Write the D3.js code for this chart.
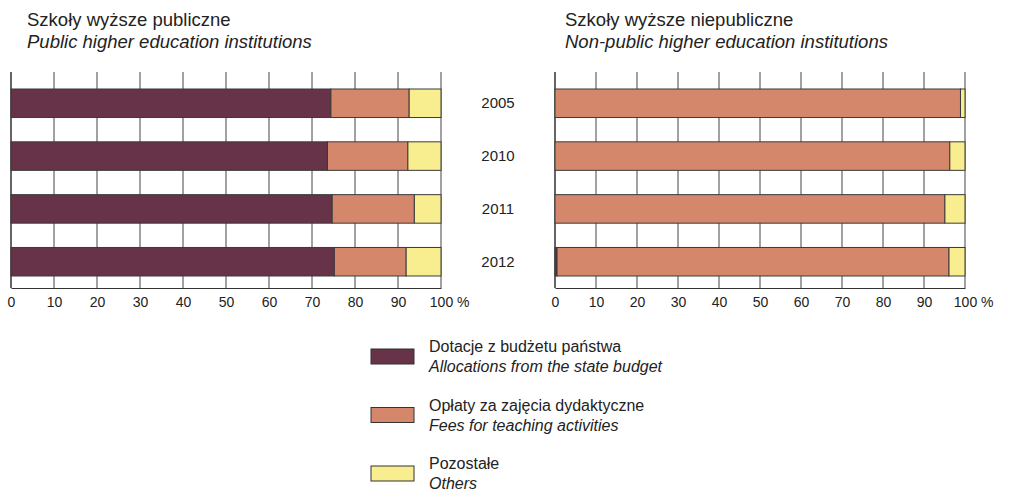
<!DOCTYPE html>
<html>
<head>
<meta charset="utf-8">
<script src="https://cdn.jsdelivr.net/npm/d3@7"></script>
<style>
  body { margin: 0; background: #fff; }
  svg { font-family: "Liberation Sans", Arial, sans-serif; }
</style>
</head>
<body>
<div class="container"></div>
<script>
// data (shares in %)
const years = ['2005', '2010', '2011', '2012'];
const publicState = [74.4, 73.6, 74.7, 75.2];
const publicFees = [18.2, 18.7, 19.1, 16.7];
const publicOther = [7.4, 7.7, 6.2, 8.1];
const nonpublicState = [0, 0, 0, 0.5];
const nonpublicFees = [98.9, 96.3, 95.1, 95.6];
const nonpublicOther = [1.1, 3.7, 4.9, 3.9];
const xTicks = [0, 10, 20, 30, 40, 50, 60, 70, 80, 90, 100];
const seriesKeys = ['state', 'fees', 'other'];
const seriesPl = ['Dotacje z budżetu państwa', 'Opłaty za zajęcia dydaktyczne', 'Pozostałe'];
const seriesEn = ['Allocations from the state budget', 'Fees for teaching activities', 'Others'];

const WIDTH = 1016, HEIGHT = 504;
const colors = { state: '#663349', fees: '#d4876b', other: '#f8ee8f' };

const svg = d3.select('.container').append('svg')
  .attr('width', WIDTH).attr('height', HEIGHT);

const y = d3.scaleBand().domain(years).range([89, 276])
  .paddingInner(0.46).paddingOuter(0);

const gridTop = 72, axisY = 288;

function panel(range, title, subtitle, titleX, st, fe, ot) {
  const x = d3.scaleLinear().domain([0, 100]).range(range);
  const g = svg.append('g');

  // titles
  g.append('text').attr('x', titleX).attr('y', 26)
    .attr('font-size', 18.5).attr('fill', '#222').text(title);
  g.append('text').attr('x', titleX).attr('y', 48)
    .attr('font-size', 18.5).attr('font-style', 'italic').attr('fill', '#222').text(subtitle);

  // vertical grid
  g.selectAll('.grid').data(xTicks).enter().append('line')
    .attr('x1', d => x(d)).attr('x2', d => x(d))
    .attr('y1', gridTop).attr('y2', axisY)
    .attr('stroke', d => d == 0 ? '#333' : '#444').attr('stroke-width', d => d == 0 ? 1.5 : 1);

  // axis
  const ax = g.append('g').attr('transform', `translate(0,${axisY})`)
    .call(d3.axisBottom(x).tickValues(xTicks).tickSize(0).tickPadding(9).tickFormat(d => d));
  ax.select('.domain').attr('stroke', '#333').attr('stroke-width', 1.2);
  ax.selectAll('text').attr('font-size', 14).attr('fill', '#222')
    .attr('font-family', '"Liberation Sans Narrow", "Liberation Sans", Arial, sans-serif');
  const last = ax.selectAll('.tick text').filter(d => d == 100);
  const w = last.node().getComputedTextLength();
  last.attr('text-anchor', 'start').attr('x', -w / 2).append('tspan').text(' %');

  // stacked bars
  const rows = years.map((yr, i) => ({ year: yr, state: st[i], fees: fe[i], other: ot[i] }));
  const stacked = d3.stack().keys(seriesKeys)(rows);
  g.selectAll('.layer').data(stacked).enter().append('g')
    .attr('fill', d => colors[d.key])
    .selectAll('rect').data(d => d).enter().append('rect')
    .attr('x', d => x(d[0]))
    .attr('y', d => y(d.data.year))
    .attr('width', d => x(d[1]) - x(d[0]))
    .attr('height', y.bandwidth())
    .attr('stroke', '#3a3a3a').attr('stroke-width', 1);
}

panel([11, 441], 'Szkoły wyższe publiczne', 'Public higher education institutions', 27,
  publicState, publicFees, publicOther);
panel([555, 965], 'Szkoły wyższe niepubliczne', 'Non-public higher education institutions', 565,
  nonpublicState, nonpublicFees, nonpublicOther);

// year labels between panels
svg.selectAll('.year').data(years).enter().append('text')
  .attr('x', 498).attr('y', d => y(d) + y.bandwidth() / 2 + 5)
  .attr('text-anchor', 'middle').attr('font-size', 15).attr('fill', '#222')
  .text(d => d);

// legend
const legY = d3.scaleBand().domain(seriesKeys).range([340, 515.5]);
const leg = svg.selectAll('.leg').data(seriesKeys).enter().append('g')
  .attr('transform', d => `translate(0,${legY(d)})`);
leg.append('rect').attr('x', 371).attr('y', 9).attr('width', 43).attr('height', 15)
  .attr('fill', d => colors[d]).attr('stroke', '#333').attr('stroke-width', 1);
leg.append('text').attr('x', 429).attr('y', 12).attr('font-size', 16).attr('fill', '#222')
  .text((d, i) => seriesPl[i]);
leg.append('text').attr('x', 429).attr('y', 32).attr('font-size', 16).attr('fill', '#222')
  .attr('font-style', 'italic').text((d, i) => seriesEn[i]);
</script>
</body>
</html>
